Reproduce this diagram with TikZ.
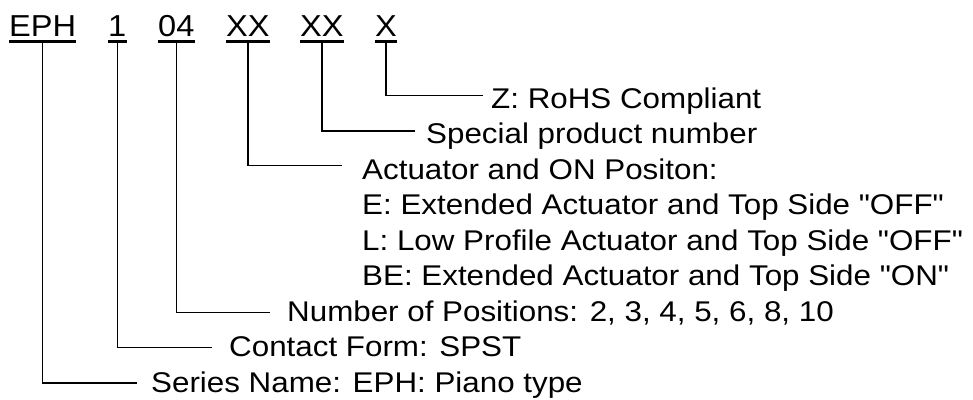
\documentclass[tikz,border=0pt]{standalone}
\usepackage{fontspec}
\setmainfont{Liberation Sans}
\usepackage{graphicx}
\begin{document}
\begin{tikzpicture}[x=1pt,y=-1pt,
  hdr/.style={inner sep=0pt,anchor=base west,font=\fontsize{30.3}{36}\selectfont},
  lbl/.style={inner sep=0pt,anchor=base west,font=\fontsize{28.5}{35.5}\selectfont},
  conn/.style={line width=1.4pt,black},
  uline/.style={line width=2.4pt,black}]
\useasboundingbox (0,0) rectangle (973,399);
% header
\node[hdr] (hEPH) at (9,36.7) {\scalebox{1.075}[1]{EPH}};
\node[hdr] (hOne) at (108,36.7) {\scalebox{1.075}[1]{1}};
\node[hdr] (hPos) at (158,36.7) {\scalebox{1.075}[1]{04}};
\node[hdr] (hAct) at (226,36.7) {\scalebox{1.075}[1]{XX}};
\node[hdr] (hSpc) at (300,36.7) {\scalebox{1.075}[1]{XX}};
\node[hdr] (hZ) at (375,36.7) {\scalebox{1.075}[1]{X}};
\foreach \n in {hEPH,hOne,hPos,hAct,hSpc,hZ}
  \draw[uline] ([yshift=-4.8pt]\n.base west) -- ([yshift=-4.8pt]\n.base east);
% labels
\node[lbl] (lZ) at (491,108) {\scalebox{1.1}[1]{Z: RoHS Compliant}};
\node[lbl] (lSpc) at (426,143.5) {\scalebox{1.1}[1]{Special product number}};
\node[lbl] (lAct) at (362,179) {\scalebox{1.1}[1]{Actuator and ON Positon:}};
\node[lbl] (lActE) at (362,214.5) {\scalebox{1.1}[1]{E: Extended Actuator and Top Side \textquotedbl OFF\textquotedbl}};
\node[lbl] (lActL) at (362,250) {\scalebox{1.1}[1]{L: Low Profile Actuator and Top Side \textquotedbl OFF\textquotedbl}};
\node[lbl] (lActB) at (362,285.5) {\scalebox{1.1}[1]{BE: Extended Actuator and Top Side \textquotedbl ON\textquotedbl}};
\node[lbl] (lPos) at (287,321) {\scalebox{1.1}[1]{Number of Positions: 2, 3, 4, 5, 6, 8, 10}};
\node[lbl] (lOne) at (229,356.5) {\scalebox{1.1}[1]{Contact Form: SPST}};
\node[lbl] (lEPH) at (151,392) {\scalebox{1.1}[1]{Series Name: EPH: Piano type}};
% connector end points
\coordinate (eZ) at (483,95.5);
\coordinate (eSpc) at (415,130.8);
\coordinate (eAct) at (342,165.2);
\coordinate (ePos) at (270,312.3);
\coordinate (eOne) at (212,347.3);
\coordinate (eEPH) at (137,382.8);
\draw[conn] ([yshift=-4.8pt]hZ.base) |- (eZ);
\draw[conn] ([yshift=-4.8pt]hSpc.base) |- (eSpc);
\draw[conn] ([yshift=-4.8pt]hAct.base) |- (eAct);
\draw[conn] ([yshift=-4.8pt]hPos.base) |- (ePos);
\draw[conn] ([yshift=-4.8pt]hOne.base) |- (eOne);
\draw[conn] ([yshift=-4.8pt]hEPH.base) |- (eEPH);
\end{tikzpicture}
\end{document}
